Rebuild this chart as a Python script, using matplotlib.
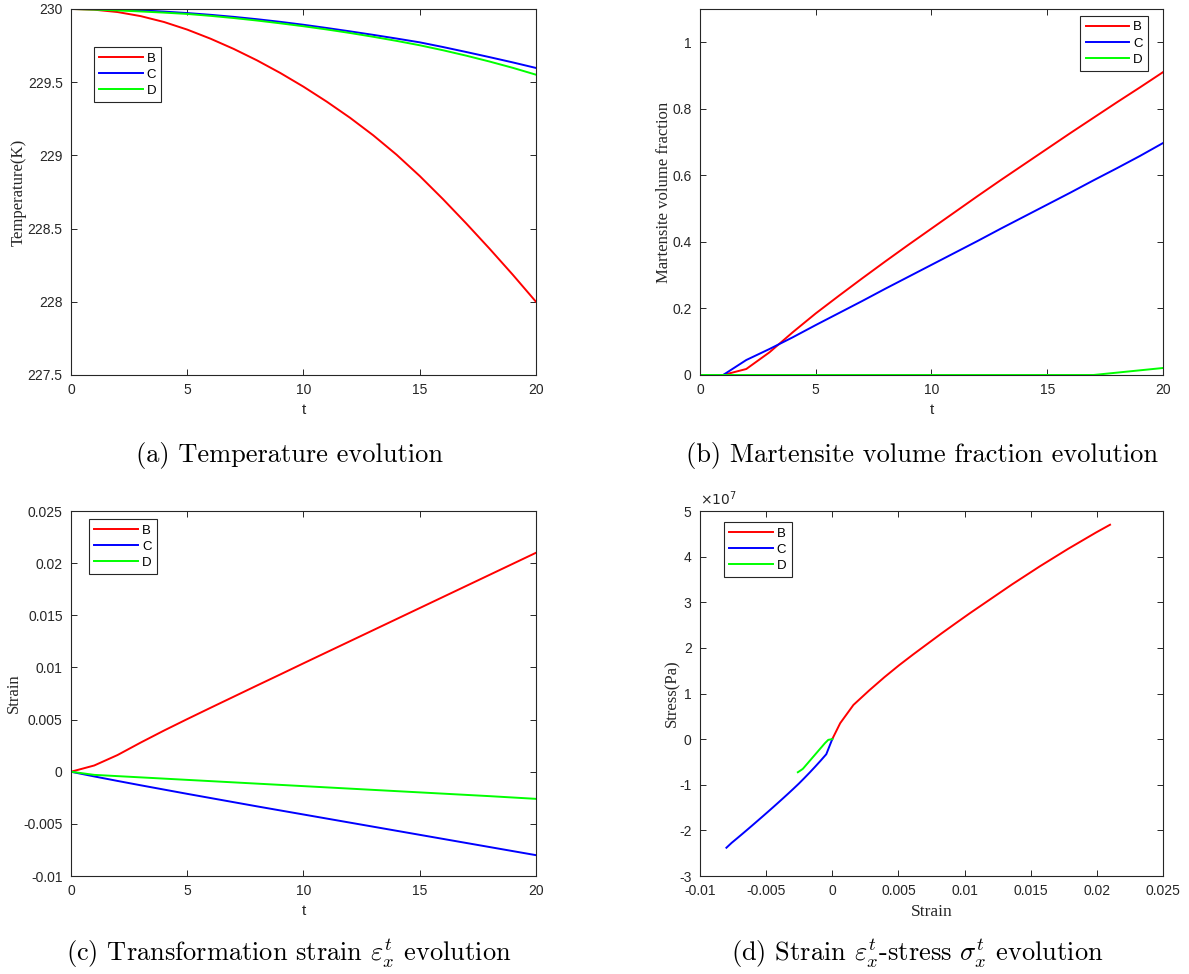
import numpy as np
import matplotlib
matplotlib.use("Agg")
import matplotlib.pyplot as plt
from matplotlib.ticker import FuncFormatter

plt.rcParams['font.family'] = ['Liberation Sans', 'DejaVu Sans']
plt.rcParams['axes.unicode_minus'] = False

# time steps
t = list(range(21))

# (a) temperature (K)
temp_B = [230.000, 229.995, 229.979, 229.951, 229.911, 229.859, 229.797, 229.727,
          229.649, 229.563, 229.469, 229.367, 229.257, 229.137, 229.005, 228.859,
          228.701, 228.535, 228.363, 228.185, 228.000]
temp_C = [230.000, 229.999, 229.996, 229.990, 229.982, 229.972, 229.960, 229.946,
          229.930, 229.912, 229.892, 229.870, 229.847, 229.823, 229.798, 229.772,
          229.740, 229.706, 229.671, 229.635, 229.597]
temp_D = [230.000, 229.996, 229.990, 229.983, 229.975, 229.966, 229.953, 229.938,
          229.921, 229.902, 229.882, 229.860, 229.836, 229.810, 229.782, 229.752,
          229.718, 229.681, 229.641, 229.598, 229.551]

# (b) martensite volume fraction
frac_B = [0, 0, 0.018, 0.068, 0.128, 0.185, 0.238, 0.290, 0.341, 0.391, 0.440,
          0.489, 0.538, 0.586, 0.633, 0.680, 0.727, 0.773, 0.819, 0.864, 0.910]
frac_C = [0, 0, 0.045, 0.078, 0.113, 0.150, 0.186, 0.222, 0.259, 0.295, 0.331,
          0.367, 0.403, 0.440, 0.476, 0.512, 0.548, 0.585, 0.621, 0.658, 0.697]
frac_D = [0, 0, 0, 0, 0, 0, 0, 0, 0, 0, 0, 0, 0, 0, 0, 0, 0, 0, 0.007, 0.014, 0.021]

# (c) transformation strain
strain_B = [0, 0.0006, 0.0016, 0.0028, 0.00395, 0.00505, 0.00613, 0.0072, 0.00827,
            0.00933, 0.0104, 0.01146, 0.01252, 0.01358, 0.01464, 0.0157, 0.01676,
            0.01782, 0.01888, 0.01994, 0.0210]
strain_C = [0, -0.00045, -0.00088, -0.0013, -0.00171, -0.00212, -0.00252, -0.00292,
            -0.00332, -0.00371, -0.0041, -0.00449, -0.00488, -0.00527, -0.00566,
            -0.00605, -0.00644, -0.00683, -0.00722, -0.00761, -0.0080]
strain_D = [0, -0.0003, -0.00042, -0.00054, -0.00066, -0.00078, -0.0009, -0.00102,
            -0.00114, -0.00126, -0.00138, -0.0015, -0.00162, -0.00174, -0.00186,
            -0.00198, -0.0021, -0.00222, -0.00234, -0.00247, -0.0026]

# (d) stress (Pa)
stress_B = [0, 0.35e7, 0.75e7, 1.07e7, 1.36e7, 1.62e7, 1.86e7, 2.09e7, 2.32e7, 2.54e7,
            2.76e7, 2.97e7, 3.18e7, 3.39e7, 3.59e7, 3.79e7, 3.98e7, 4.17e7, 4.35e7,
            4.53e7, 4.70e7]
stress_C = [0, -0.33e7, -0.472e7, -0.606e7, -0.733e7, -0.856e7, -0.973e7, -1.083e7,
            -1.191e7, -1.294e7, -1.396e7, -1.497e7, -1.597e7, -1.696e7, -1.794e7,
            -1.892e7, -1.989e7, -2.085e7, -2.18e7, -2.274e7, -2.38e7]
stress_D = [0, -0.015e7, -0.05e7, -0.084e7, -0.124e7, -0.165e7, -0.205e7, -0.245e7,
            -0.286e7, -0.326e7, -0.367e7, -0.407e7, -0.448e7, -0.488e7, -0.529e7,
            -0.569e7, -0.61e7, -0.65e7, -0.675e7, -0.70e7, -0.725e7]

labels = ['B', 'C', 'D']
colors = ['#ff0000', '#0000ff', '#00ff00']
stress_exp = 7

AX_COLOR = '#262626'
gfmt = FuncFormatter(lambda v, pos: '%g' % round(v, 6))
efmt = FuncFormatter(lambda v, pos: '%g' % round(v / 10 ** stress_exp, 6))


def style_axes(ax):
    for sp in ax.spines.values():
        sp.set_color(AX_COLOR)
        sp.set_linewidth(0.8)
    ax.tick_params(direction='in', length=4.5, width=0.7, top=True, right=True,
                   labelsize=10, colors=AX_COLOR, labelcolor='#262626', pad=6)


def add_legend(ax, loc, anchor):
    leg = ax.legend(loc=loc, bbox_to_anchor=anchor, fontsize=9.5, fancybox=False,
                    framealpha=1, edgecolor=AX_COLOR, handlelength=3.3,
                    handletextpad=0.3, labelspacing=0.3, borderpad=0.4,
                    borderaxespad=0)
    leg.get_frame().set_linewidth(0.8)


def add_lines(ax, xs, ys):
    for x, y, lab, c in zip(xs, ys, labels, colors):
        ax.plot(x, y, color=c, lw=1.4, label=lab)


fig = plt.figure(figsize=(11.89, 9.74), dpi=100)
ax_a = fig.add_axes([0.0597, 0.6150, 0.3911, 0.3758])
ax_b = fig.add_axes([0.5887, 0.6150, 0.3894, 0.3758])
ax_c = fig.add_axes([0.0597, 0.1006, 0.3911, 0.3747])
ax_d = fig.add_axes([0.5887, 0.1006, 0.3894, 0.3747])

serif = ['Liberation Serif', 'DejaVu Serif']
ylab = dict(family=serif, fontsize=12, color=AX_COLOR)

# (a)
add_lines(ax_a, [t, t, t], [temp_B, temp_C, temp_D])
ax_a.set_xlim(0, 20)
ax_a.set_ylim(227.5, 230)
ax_a.set_xticks([0, 5, 10, 15, 20])
ax_a.set_yticks(np.arange(227.5, 230.01, 0.5))
ax_a.yaxis.set_major_formatter(gfmt)
ax_a.set_xlabel('t', fontsize=11, color=AX_COLOR)
ax_a.set_ylabel('Temperature(K)', labelpad=1, **ylab)
style_axes(ax_a)
add_legend(ax_a, 'upper left', (0.049, 0.896))

# (b)
add_lines(ax_b, [t, t, t], [frac_B, frac_C, frac_D])
ax_b.set_xlim(0, 20)
ax_b.set_ylim(0, 1.1)
ax_b.set_xticks([0, 5, 10, 15, 20])
ax_b.set_yticks([0, 0.2, 0.4, 0.6, 0.8, 1])
ax_b.yaxis.set_major_formatter(gfmt)
ax_b.set_xlabel('t', fontsize=11, color=AX_COLOR)
ax_b.set_ylabel('Martensite volume fraction', labelpad=0, **ylab)
style_axes(ax_b)
add_legend(ax_b, 'upper right', (0.968, 0.981))

# (c)
add_lines(ax_c, [t, t, t], [strain_B, strain_C, strain_D])
ax_c.set_xlim(0, 20)
ax_c.set_ylim(-0.01, 0.025)
ax_c.set_xticks([0, 5, 10, 15, 20])
ax_c.set_yticks(np.arange(-0.01, 0.0251, 0.005))
ax_c.yaxis.set_major_formatter(gfmt)
ax_c.set_xlabel('t', fontsize=11, color=AX_COLOR)
ax_c.set_ylabel('Strain', labelpad=1, **ylab)
style_axes(ax_c)
add_legend(ax_c, 'upper left', (0.039, 0.978))

# (d)
add_lines(ax_d, [strain_B, strain_C, strain_D], [stress_B, stress_C, stress_D])
ax_d.set_xlim(-0.01, 0.025)
ax_d.set_ylim(-3e7, 5e7)
ax_d.set_xticks(np.arange(-0.01, 0.0251, 0.005))
ax_d.xaxis.set_major_formatter(gfmt)
ax_d.set_yticks(np.arange(-3e7, 5.01e7, 1e7))
ax_d.yaxis.set_major_formatter(efmt)
ax_d.text(0.0, 1.008, r'$\times10^{%d}$' % stress_exp, transform=ax_d.transAxes,
          fontsize=10, color=AX_COLOR, ha='left', va='bottom')
ax_d.set_xlabel('Strain', family=serif, fontsize=12.5, color=AX_COLOR)
ax_d.set_ylabel('Stress(Pa)', labelpad=-1, **ylab)
style_axes(ax_d)
add_legend(ax_d, 'upper left', (0.052, 0.97))

# captions
cap = dict(family='cmr10', math_fontfamily='cm', fontsize=19, ha='center', va='baseline')
fig.text(289 / 1189, 1 - 462 / 974, '(a) Temperature evolution', **cap)
fig.text(922 / 1189, 1 - 462 / 974, '(b) Martensite volume fraction evolution', **cap)
fig.text(289 / 1189, 1 - 961 / 974, r'(c) Transformation strain $\varepsilon_x^t$ evolution', **cap)
fig.text(917 / 1189, 1 - 961 / 974, r'(d) Strain $\varepsilon_x^t$-stress $\sigma_x^t$ evolution', **cap)

fig.savefig('out.png', dpi=100, facecolor='white')
